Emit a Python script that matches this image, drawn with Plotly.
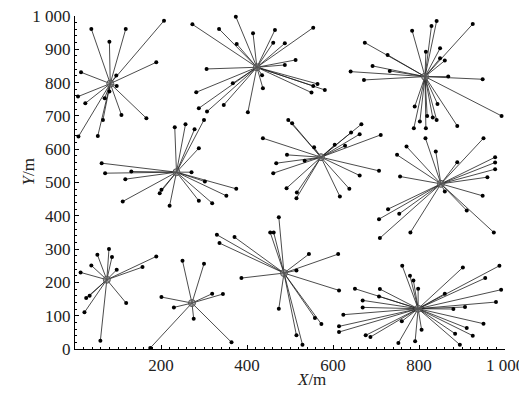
import plotly.graph_objects as go

# Cluster centres
centers_x = [82, 423, 814, 236, 572, 851, 74, 272, 486, 798]
centers_y = [797, 846, 818, 531, 576, 496, 208, 138, 228, 121]

# Member points per cluster
c1_x = [207, 38, 118, 80, 189, 14, 96, 97, 7, 24, 69, 80, 108, 166, 65, 8, 53]
c1_y = [986, 961, 961, 923, 861, 831, 821, 790, 758, 738, 753, 773, 703, 693, 688, 638, 640]

c2_x = [374, 414, 465, 554, 461, 488, 376, 513, 488, 435, 437, 564, 554, 581, 550, 402, 273, 335, 306, 282, 288, 307, 346, 367]
c2_y = [998, 948, 958, 965, 920, 918, 916, 868, 853, 822, 783, 796, 790, 778, 770, 711, 975, 961, 841, 771, 723, 713, 733, 798]

c3_x = [925, 841, 829, 784, 674, 816, 849, 860, 849, 727, 692, 641, 732, 672, 868, 948, 992, 790, 802, 788, 816, 832, 843, 841, 889, 819]
c3_y = [976, 985, 970, 956, 920, 893, 903, 866, 873, 883, 850, 833, 835, 808, 818, 810, 700, 728, 683, 663, 663, 695, 736, 688, 670, 700]

c4_x = [232, 257, 278, 300, 288, 62, 70, 131, 117, 271, 375, 352, 111, 197, 201, 220, 288, 319, 302]
c4_y = [666, 675, 660, 688, 603, 558, 528, 533, 510, 531, 481, 460, 443, 468, 478, 430, 445, 438, 503]

c5_x = [496, 505, 666, 662, 642, 711, 604, 628, 437, 556, 493, 468, 534, 461, 707, 662, 492, 516, 638, 616, 515]
c5_y = [688, 678, 675, 645, 650, 643, 613, 610, 633, 606, 583, 558, 565, 528, 535, 521, 483, 470, 481, 458, 453]

c6_x = [950, 815, 771, 839, 749, 889, 977, 977, 977, 959, 756, 948, 860, 728, 707, 754, 709, 780, 911, 974]
c6_y = [633, 633, 608, 593, 583, 561, 576, 560, 540, 516, 518, 460, 473, 420, 390, 406, 333, 350, 416, 350]

c7_x = [79, 86, 52, 38, 97, 189, 157, 13, 26, 34, 22, 119, 59]
c7_y = [300, 276, 283, 251, 238, 278, 246, 230, 153, 160, 110, 138, 25]

c8_x = [250, 300, 201, 230, 319, 344, 276, 175, 364]
c8_y = [265, 256, 156, 125, 166, 165, 91, 3, 20]

c9_x = [474, 454, 462, 330, 371, 336, 544, 612, 515, 387, 614, 474, 558, 573, 515, 529]
c9_y = [396, 350, 350, 343, 336, 318, 285, 285, 236, 213, 176, 121, 93, 75, 41, 13]

c10_x = [761, 779, 787, 798, 709, 651, 707, 669, 669, 624, 614, 614, 676, 687, 752, 791, 760, 806, 902, 987, 954, 860, 991, 979, 907, 880, 950, 911, 925, 884, 895]
c10_y = [250, 220, 206, 181, 180, 181, 158, 146, 125, 103, 68, 51, 41, 36, 18, 23, 83, 58, 245, 250, 213, 166, 178, 141, 126, 120, 76, 63, 40, 46, 13]

x_tick_vals = [200, 400, 600, 800, 1000]
x_tick_text = ["200", "400", "600", "800", "1 000"]
y_tick_vals = [0, 100, 200, 300, 400, 500, 600, 700, 800, 900, 1000]
y_tick_text = ["0", "100", "200", "300", "400", "500", "600", "700", "800", "900", "1 000"]

clusters_x = [c1_x, c2_x, c3_x, c4_x, c5_x, c6_x, c7_x, c8_x, c9_x, c10_x]
clusters_y = [c1_y, c2_y, c3_y, c4_y, c5_y, c6_y, c7_y, c8_y, c9_y, c10_y]

line_x, line_y, pt_x, pt_y = [], [], [], []
for cx, cy, xs, ys in zip(centers_x, centers_y, clusters_x, clusters_y):
    for x, y in zip(xs, ys):
        line_x += [cx, x, None]
        line_y += [cy, y, None]
        pt_x.append(x)
        pt_y.append(y)

FONT = "Liberation Serif"

fig = go.Figure()
fig.add_trace(go.Scatter(x=line_x, y=line_y, mode="lines",
                         line=dict(color="#1e1e1e", width=0.8),
                         hoverinfo="skip", cliponaxis=False))
fig.add_trace(go.Scatter(x=pt_x, y=pt_y, mode="markers",
                         marker=dict(color="black", size=4),
                         cliponaxis=False))
fig.add_trace(go.Scatter(x=centers_x, y=centers_y, mode="markers",
                         marker=dict(color="rgba(120,120,120,0.6)", size=7,
                                     line=dict(color="#555", width=1)),
                         cliponaxis=False))

axis_common = dict(showline=True, linecolor="black", linewidth=1.2,
                   ticks="inside", ticklen=4, tickcolor="black",
                   showgrid=False, zeroline=False, mirror=False, automargin=False,
                   ticklabeloverflow="allow",
                   tickfont=dict(family=FONT, size=17, color="#222"),
                   minor=dict(ticks="inside", ticklen=2, dtick=20, tickcolor="black"))

# The page body offsets the figure by 8 px; compensate so the plot area lands
# at page pixels x 75..505, y 16..349.
OFF = 8
W, H = 527 - OFF, 407 - OFF
ML, MR, MT, MB = 75 - OFF, 22, 16 - OFF, 58
PW, PH = W - ML - MR, H - MT - MB

def px_to_paper(px, py):
    return (px - OFF - ML) / PW, 1 - (py - OFF - MT) / PH

xl_x, xl_y = px_to_paper(311, 391)
yl_x, yl_y = px_to_paper(16, 172)

fig.update_layout(
    template="none",
    width=W, height=H,
    margin=dict(l=ML, r=MR, t=MT, b=MB, pad=0, autoexpand=False),
    plot_bgcolor="white", paper_bgcolor="white",
    showlegend=False,
    font=dict(family=FONT),
    xaxis=dict(range=[0, 1000], tickvals=x_tick_vals, ticktext=x_tick_text, **axis_common),
    yaxis=dict(range=[0, 1000], tickvals=y_tick_vals, ticktext=y_tick_text, **axis_common),
    annotations=[
        dict(text="<i>X</i>/m", x=xl_x, y=xl_y, xref="paper", yref="paper",
             showarrow=False, font=dict(family=FONT, size=17, color="#222")),
        dict(text="<i>Y</i>/m", x=yl_x, y=yl_y, xref="paper", yref="paper", textangle=-90,
             showarrow=False, font=dict(family=FONT, size=17, color="#222")),
    ],
)

fig.write_html("out.html")
